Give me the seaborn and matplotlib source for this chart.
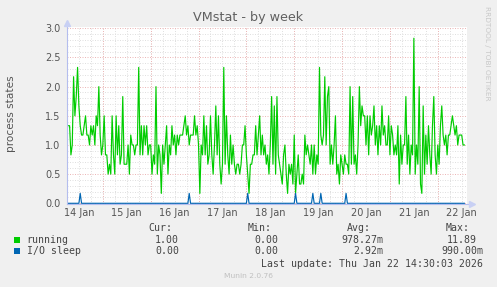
import matplotlib
matplotlib.use("Agg")
import matplotlib.pyplot as plt
import matplotlib.dates as mdates
from matplotlib.ticker import MultipleLocator, FixedLocator
from matplotlib.patches import Rectangle
from matplotlib.lines import Line2D
import numpy as np
import pandas as pd
import seaborn as sns

# ---------------- data ----------------
title = "VMstat - by week"
y_label = "process states"
series_names = ["running", "I/O sleep"]
series_colors = ["#00CC00", "#0066B3"]
y_ticks = [0.0, 0.5, 1.0, 1.5, 2.0, 2.5, 3.0]

start_time = "2026-01-14 06:00"
sample_step = "40min"
window_start = "2026-01-14 05:53"
window_end = "2026-01-22 14:30"

running_14_16 = [1.33, 1.33, 1.33, 0.83, 1.0, 2.17, 1.5, 1.83, 2.33, 1.67,
                 1.33, 1.17, 1.17, 1.33, 1.5, 1.17, 1.17, 1.0, 1.33, 1.17,
                 1.33, 1.0, 1.5, 1.33, 2.0, 1.17, 0.83, 1.0, 1.5, 0.83,
                 0.83, 0.5, 0.67, 0.5, 1.5, 0.83, 0.5, 1.5, 0.83, 1.33,
                 0.67, 0.83, 1.83, 0.67, 0.67, 0.67, 1.0, 0.5, 1.17, 1.0,
                 1.0, 0.83, 1.0, 1.0, 2.33, 0.83, 1.33, 0.83, 1.33, 1.0,
                 1.33, 0.83, 1.0, 1.0, 0.5, 0.83, 0.67, 2.0, 0.5, 1.0,
                 0.83, 0.17, 1.0, 0.67, 1.0]
running_16_18 = [1.33, 0.5, 1.0, 0.83, 1.33, 1.0, 1.17, 0.83, 1.17, 1.0,
                 1.17, 1.17, 1.17, 1.33, 1.5, 1.17, 1.33, 1.0, 1.17, 1.17,
                 1.17, 1.5, 1.17, 1.33, 1.0, 0.17, 1.0, 0.83, 1.5, 0.83,
                 1.33, 0.67, 0.83, 1.5, 0.83, 0.5, 1.0, 1.67, 0.83, 1.5,
                 0.67, 0.33, 0.67, 2.33, 0.67, 1.5, 0.83, 0.5, 1.17, 0.67,
                 1.0, 0.67, 0.5, 0.67, 0.67, 0.5, 0.67, 1.0, 1.0, 1.33,
                 0.83, 0.5, 0.17, 0.67, 0.67, 0.83, 0.83, 1.33, 0.83, 1.17,
                 1.5, 0.83, 1.17, 0.83, 1.0]
running_18_20 = [0.67, 0.83, 0.5, 1.0, 1.83, 0.67, 1.67, 0.5, 1.83, 0.83,
                 0.67, 0.5, 0.33, 0.83, 1.0, 0.5, 0.17, 0.67, 0.5, 0.67,
                 0.33, 1.17, 0.17, 0.5, 0.83, 0.33, 0.33, 0.5, 0.33, 1.17,
                 0.83, 1.0, 0.83, 0.67, 1.0, 0.5, 1.0, 0.5, 0.83, 0.67,
                 2.33, 1.17, 1.0, 1.17, 2.17, 1.0, 1.83, 2.0, 0.67, 1.0,
                 0.67, 1.0, 1.5, 0.5, 0.67, 0.33, 0.83, 0.67, 0.5, 0.83,
                 0.67, 0.67, 0.5, 2.0, 0.67, 1.83, 0.67, 0.83, 0.5, 1.0,
                 2.0, 1.33, 1.67, 1.5, 1.5]
running_20_22 = [1.0, 1.5, 0.83, 1.5, 1.17, 1.33, 1.67, 1.0, 1.33, 0.83,
                 1.33, 1.0, 1.67, 1.17, 1.33, 1.0, 1.0, 1.5, 0.83, 1.33,
                 1.17, 0.83, 1.0, 0.83, 1.33, 0.33, 1.17, 0.67, 1.0, 1.0,
                 1.83, 0.67, 1.17, 0.5, 1.0, 0.83, 2.83, 0.5, 1.0, 0.67,
                 2.0, 0.33, 0.17, 1.67, 0.5, 1.17, 0.67, 1.33, 0.83, 0.5,
                 1.33, 1.83, 0.83, 0.5, 1.0, 0.67, 1.33, 1.67, 1.17, 1.0,
                 1.17, 0.83, 1.17, 1.17, 1.33, 1.5, 1.33, 1.17, 1.33, 1.0,
                 1.17, 1.17, 1.17, 1.0, 1.0]

io_sleep_spike_times = ["2026-01-14 12:54", "2026-01-16 19:22", "2026-01-18 00:27",
                        "2026-01-19 00:38", "2026-01-19 09:34", "2026-01-19 13:34",
                        "2026-01-20 01:58"]
io_sleep_spike_values = [0.17, 0.17, 0.17, 0.17, 0.17, 0.17, 0.17]

legend_headers = ["Cur:", "Min:", "Avg:", "Max:"]
legend_cur = ["1.00", "0.00"]
legend_min = ["0.00", "0.00"]
legend_avg = ["978.27m", "2.92m"]
legend_max = ["11.89", "990.00m"]
last_update = "Last update: Thu Jan 22 14:30:03 2026"
footer = "Munin 2.0.76"
watermark = "RRDTOOL / TOBI OETIKER"

# ---------------- build table ----------------
running = np.array(running_14_16 + running_16_18 + running_18_20 + running_20_22)
times = pd.date_range(start_time, periods=len(running), freq=sample_step)
io_sleep = np.zeros(len(times))
for t, v in zip(pd.to_datetime(io_sleep_spike_times), io_sleep_spike_values):
    io_sleep[np.argmin(np.abs((times - t).total_seconds()))] = v

df = pd.DataFrame({
    "time": np.concatenate([times, times]),
    "value": np.concatenate([running, io_sleep]),
    "series": [series_names[0]] * len(times) + [series_names[1]] * len(times),
})

# ---------------- figure ----------------
W, H = 497, 287
BG = "#F0F0F0"
TXT = "#555555"
fig = plt.figure(figsize=(W / 100, H / 100), dpi=100, facecolor=BG)

px_left, px_right = 66.7, 466.7
px_zero = 203.3
px_per_unit = 58.33
ymin, ymax = -0.01, 3.03
ax_bottom = px_zero + (-ymin) * px_per_unit
ax_top = px_zero - ymax * px_per_unit
ax = fig.add_axes([px_left / W, 1 - ax_bottom / H, (px_right - px_left) / W, (ax_bottom - ax_top) / H])
ax.set_facecolor("white")

sns.lineplot(data=df, x="time", y="value", hue="series",
             palette=dict(zip(series_names, series_colors)),
             hue_order=series_names, estimator=None, linewidth=0.85,
             legend=False, ax=ax, zorder=5)

ax.set_xlim(pd.Timestamp(window_start), pd.Timestamp(window_end))
ax.set_ylim(ymin, ymax)
ax.set_xlabel("")
ax.set_ylabel("")

# grid
grey = "#e0e0e0"
red = "#ecb8b8"
dots = (0, (1, 1.5))
ax.yaxis.set_major_locator(FixedLocator(y_ticks))
ax.yaxis.set_minor_locator(MultipleLocator(0.1))
ax.yaxis.set_major_formatter(matplotlib.ticker.FormatStrFormatter("%.1f"))
ax.xaxis.set_major_locator(mdates.HourLocator(byhour=[12]))
ax.xaxis.set_minor_locator(mdates.HourLocator(byhour=[0, 6, 18]))
ax.xaxis.set_major_formatter(mdates.DateFormatter("%d %b"))

ax.grid(False)
ax.xaxis.grid(True, which="both", color=grey, linestyle=dots, linewidth=0.72)
ax.yaxis.grid(True, which="minor", color=grey, linestyle=dots, linewidth=0.72)
ax.yaxis.grid(True, which="major", color=red, linestyle=dots, linewidth=0.72)
ax.set_axisbelow(True)
for d in pd.date_range("2026-01-15", "2026-01-22", freq="D"):
    ax.axvline(d, color=red, linestyle=dots, linewidth=0.72, zorder=1)

ax.tick_params(axis="both", which="both", length=0)
ax.tick_params(axis="x", labelsize=7, labelcolor=TXT, pad=3.2)
ax.tick_params(axis="y", labelsize=7, labelcolor=TXT, pad=4.5)

for s in ["top", "right", "left", "bottom"]:
    ax.spines[s].set_visible(False)

# axis lines with arrows (rrdtool style)
axis_col = "#b4bdee"
fig.add_artist(Line2D([px_left / W, px_left / W], [1 - 203.8 / H, 1 - 22 / H],
                      color=axis_col, linewidth=0.8, transform=fig.transFigure))
fig.add_artist(Line2D([px_left / W, 470 / W], [1 - 203.8 / H, 1 - 203.8 / H],
                      color=axis_col, linewidth=0.8, transform=fig.transFigure))
fig.add_artist(Line2D([px_left / W], [1 - 23 / H], marker="^", markersize=4,
                      color="#c8d0f4", linestyle="none", transform=fig.transFigure))
fig.add_artist(Line2D([472 / W], [1 - 203.8 / H], marker=">", markersize=4,
                      color="#c8d0f4", linestyle="none", transform=fig.transFigure))

# titles
fig.text(248 / W, 1 - 18 / H, title, ha="center", va="center", fontsize=9.2, color="#606060")
fig.text(11 / W, 1 - 114 / H, y_label, ha="center", va="center", rotation=90,
         fontsize=7.6, color=TXT)
fig.text(487.5 / W, 1 - 53 / H, watermark, ha="center", va="center", rotation=270,
         fontsize=5.3, color="#c8c8c8")

# legend block
mono = "DejaVu Sans Mono"
lfs = 7.1
lcol = "#444444"
def ftxt(x, y, s, ha="left", **kw):
    fig.text(x / W, 1 - y / H, s, ha=ha, va="center", fontsize=kw.pop("fs", lfs),
             family=kw.pop("family", mono), color=kw.pop("color", lcol), **kw)

header_right = [172, 272, 371, 470]
for h, xr in zip(legend_headers, header_right):
    ftxt(xr, 228.3, h, ha="right")

rows_y = [239.7, 251.0]
col_right = [(legend_cur, [179, 179]), (legend_min, [278.3, 278.3]),
             (legend_avg, [383.3, 383.3]), (legend_max, [477, 483])]
for i, (name, color) in enumerate(zip(series_names, series_colors)):
    y = rows_y[i]
    fig.add_artist(Rectangle((14 / W, 1 - (y + 3) / H), 6 / W, 6 / H,
                             transform=fig.transFigure, facecolor=color, edgecolor="none"))
    ftxt(26.7, y, name)
    for vals, xrs in col_right:
        ftxt(xrs[i], y, vals[i], ha="right")

ftxt(482.7, 263.7, last_update, ha="right")
ftxt(248, 276.3, footer, ha="center", fs=5.4, family="DejaVu Sans", color="#c0c0c0")

fig.savefig("out.png", dpi=100, facecolor=BG)
